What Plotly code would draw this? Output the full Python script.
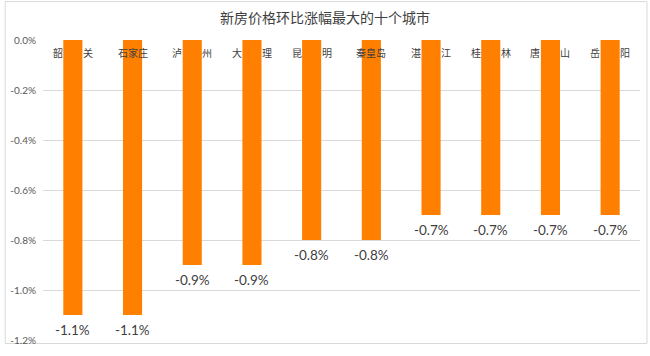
import plotly.graph_objects as go

cities = ["韶关", "石家庄", "泸州", "大理", "昆明", "秦皇岛", "湛江", "桂林", "唐山", "岳阳"]
values = [-1.1, -1.1, -0.9, -0.9, -0.8, -0.8, -0.7, -0.7, -0.7, -0.7]
value_labels = ["-1.1%", "-1.1%", "-0.9%", "-0.9%", "-0.8%", "-0.8%", "-0.7%", "-0.7%", "-0.7%", "-0.7%"]
y_ticks = [0.0, -0.2, -0.4, -0.6, -0.8, -1.0, -1.2]
y_tick_labels = ["0.0%", "-0.2%", "-0.4%", "-0.6%", "-0.8%", "-1.0%", "-1.2%"]
title = "新房价格环比涨幅最大的十个城市"

def spaced(name):
    if len(name) == 2:
        return name[0] + "\u3000\u3000" + name[1]
    return name

fig = go.Figure()
fig.add_trace(go.Bar(
    x=cities, y=values,
    marker=dict(color="#FF7F00", line=dict(width=0)),
    hoverinfo="skip",
))

for c, v, t in zip(cities, values, value_labels):
    fig.add_annotation(
        x=c, y=0, xref="x", yref="y", text=spaced(c), showarrow=False,
        yanchor="top", yshift=-3,
        font=dict(family="Noto Sans CJK SC", size=10, color="#404040"),
    )
    fig.add_annotation(
        x=c, y=v, xref="x", yref="y", text=t, showarrow=False,
        yanchor="top", yshift=-5,
        font=dict(family="Lato, Noto Sans CJK SC", size=13.5, color="#404040"),
    )

# chart border
fig.add_shape(type="rect", xref="paper", yref="paper",
              x0=-0.0633, x1=1.0117, y0=-0.0116, y1=1.128,
              line=dict(color="#d9d9d9", width=1), layer="below")

fig.update_layout(
    width=650, height=356,
    margin=dict(l=40, r=10, t=40, b=13),
    paper_bgcolor="white", plot_bgcolor="white",
    bargap=0.68,
    showlegend=False,
    title=dict(text=title, x=0.5, xanchor="center", y=1 - 18 / 356, yanchor="middle",
               font=dict(family="Noto Sans CJK SC", size=14, color="#404040")),
    xaxis=dict(showticklabels=False, showgrid=False, zeroline=False, showline=False, ticks=""),
    yaxis=dict(range=[-1.2, 0], tickvals=y_ticks, ticktext=y_tick_labels,
               showgrid=True, gridcolor="#d9d9d9", gridwidth=1, zeroline=False,
               showline=False, ticks="", ticklabelstandoff=6,
               tickfont=dict(family="Lato, Noto Sans CJK SC", size=10, color="#595959")),
    font=dict(family="Lato, Noto Sans CJK SC"),
)

fig.write_html("out.html", config={"displayModeBar": False},
               post_script="document.body.style.margin='0';")
